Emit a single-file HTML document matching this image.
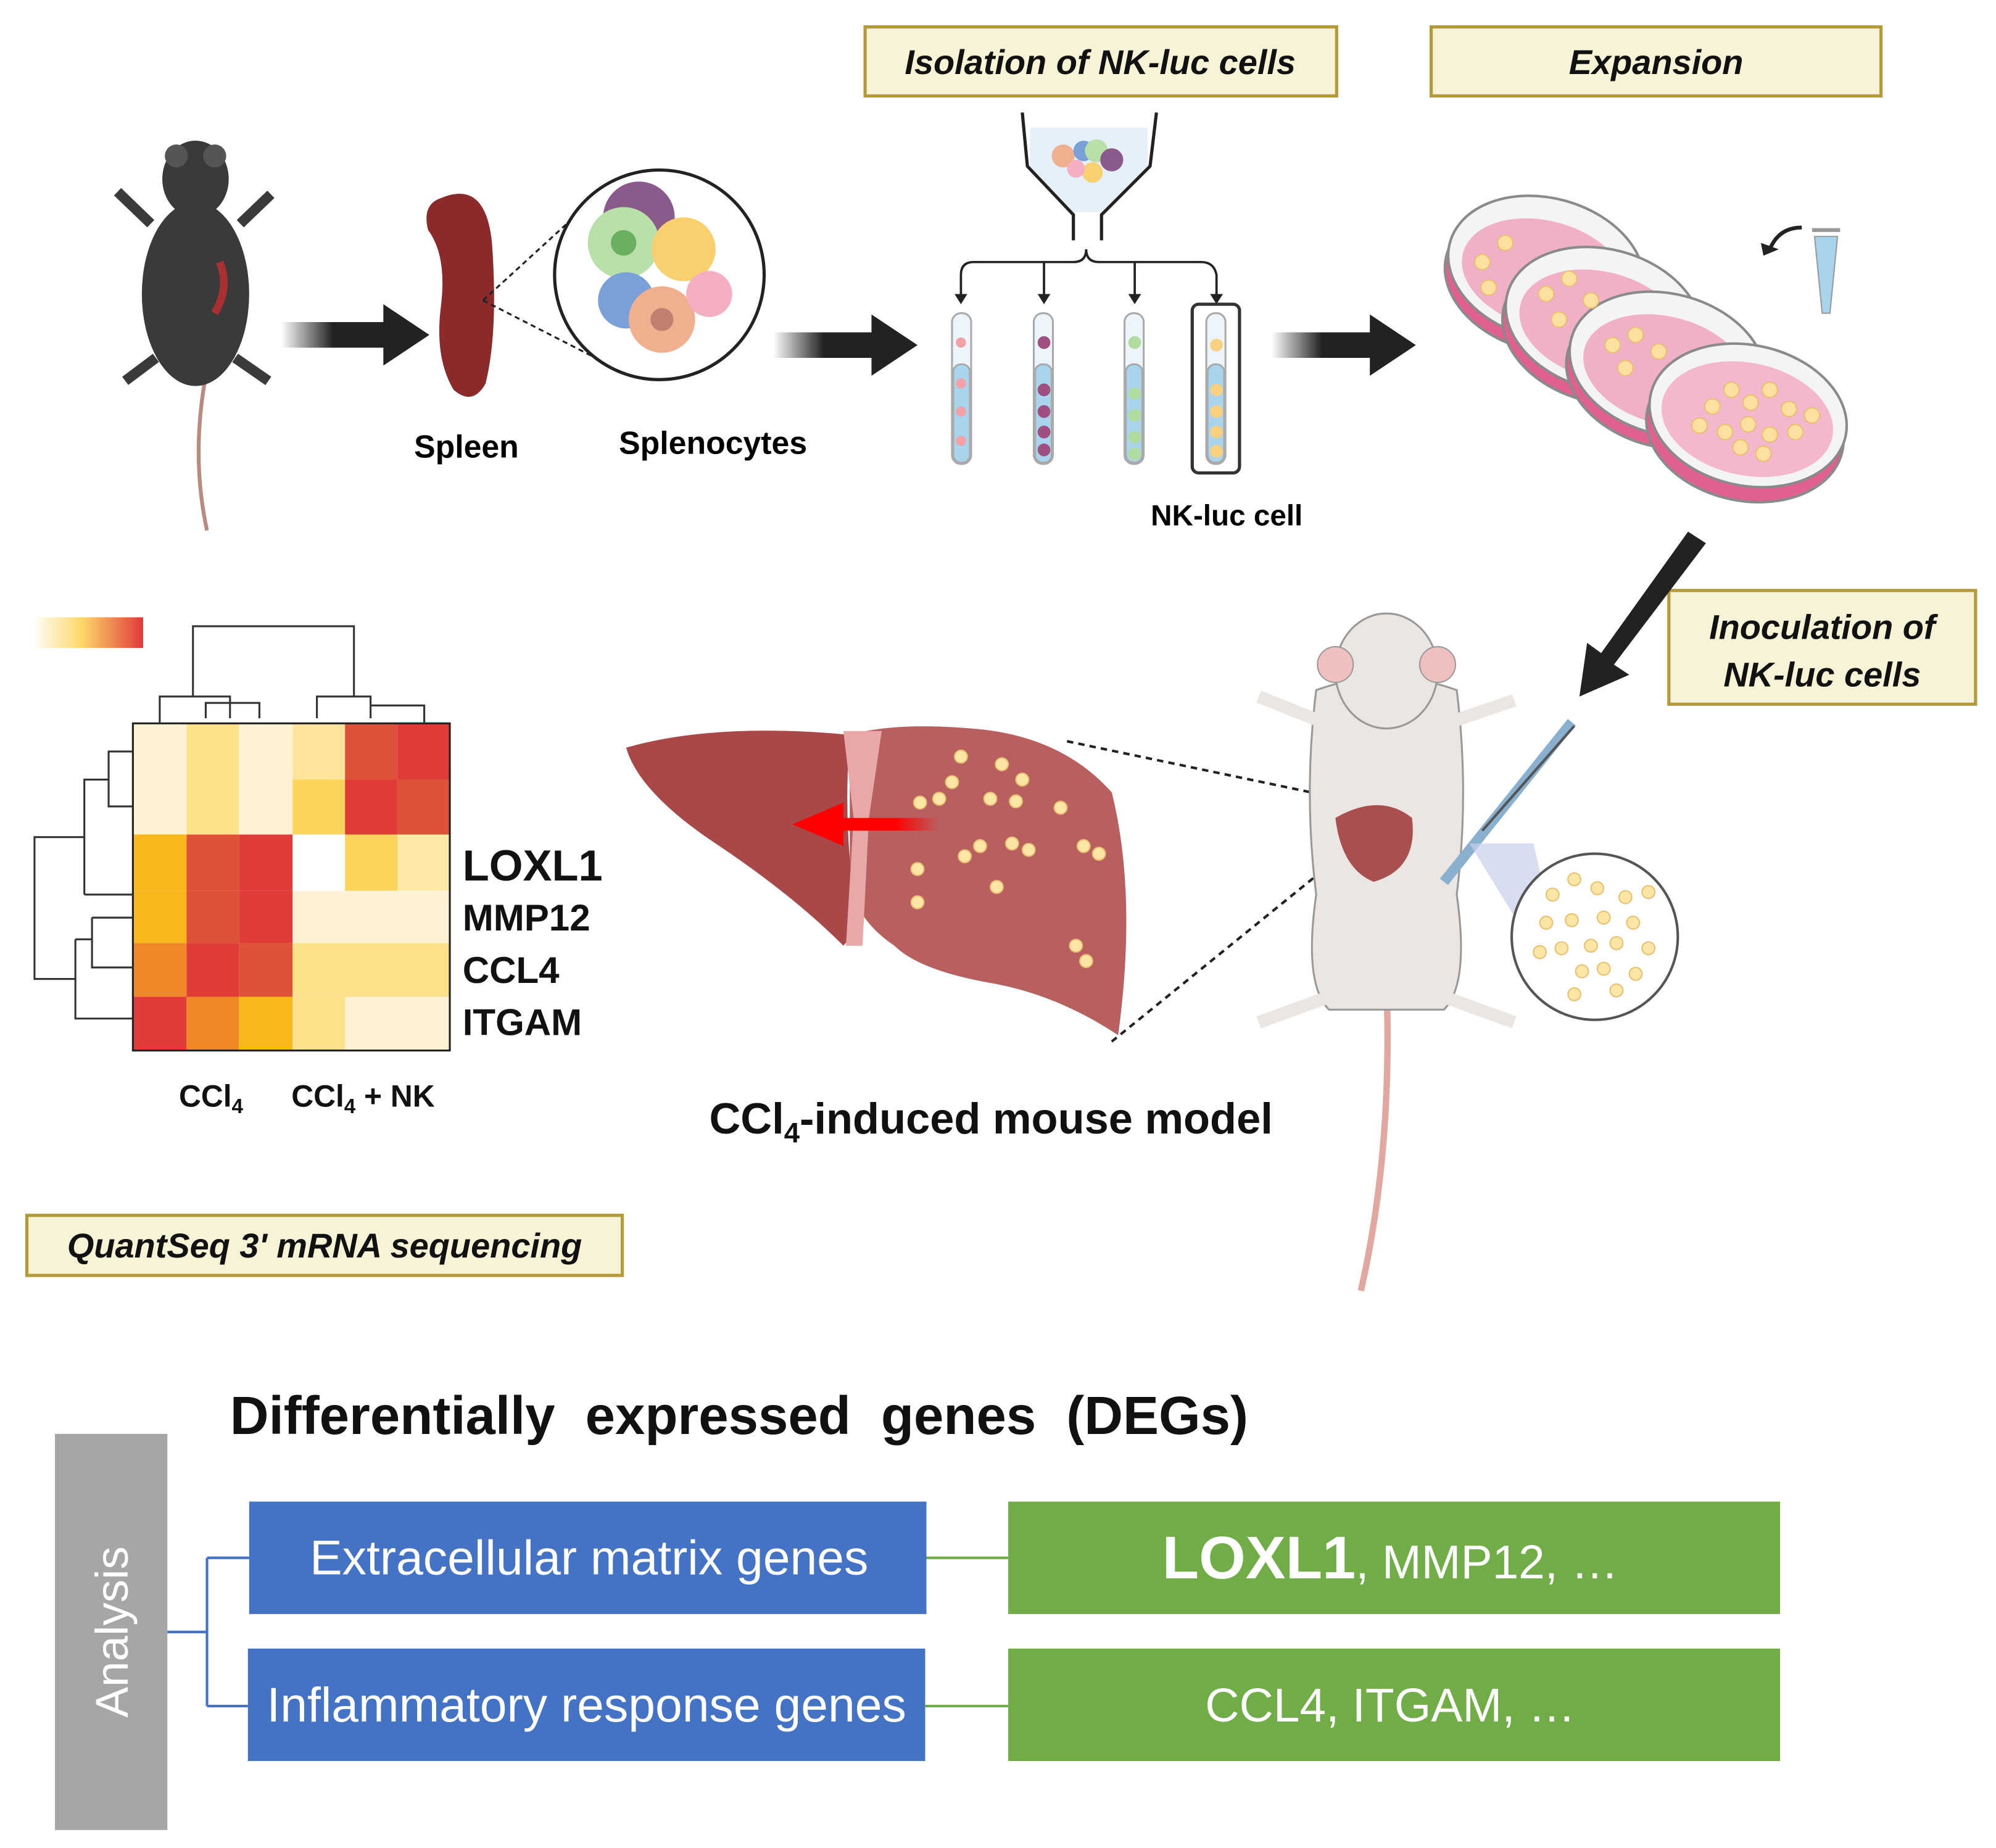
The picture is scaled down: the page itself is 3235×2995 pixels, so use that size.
<!DOCTYPE html>
<html><head><meta charset="utf-8"><style>
html,body{margin:0;padding:0;background:#fff}
svg{display:block}
text{font-family:"Liberation Sans",Arial,sans-serif}
</style></head><body>
<svg width="3235" height="2995" viewBox="0 0 1562 1446" xmlns="http://www.w3.org/2000/svg">
<defs>
<linearGradient id="ga" x1="0" x2="1"><stop offset="0" stop-color="#222" stop-opacity="0"/><stop offset="0.35" stop-color="#222"/></linearGradient>
<linearGradient id="hb" x1="0" x2="1"><stop offset="0" stop-color="#fff"/><stop offset="0.45" stop-color="#fdd868"/><stop offset="1" stop-color="#e03a3a"/></linearGradient>
<linearGradient id="ra" x1="0" x2="1"><stop offset="0" stop-color="#f00"/><stop offset="0.7" stop-color="#f00"/><stop offset="1" stop-color="#f00" stop-opacity="0"/></linearGradient>
</defs>

<!-- label boxes -->
<g stroke="#b49a3a" stroke-width="2.5" fill="#f6f3d6">
<rect x="677" y="21" width="369" height="54"/>
<rect x="1120" y="21" width="352" height="54"/>
<rect x="1306" y="462" width="240" height="89"/>
<rect x="21" y="951" width="466" height="47"/>
</g>
<g font-weight="bold" font-style="italic" font-size="27" fill="#111" text-anchor="middle">
<text x="861" y="58">Isolation of NK-luc cells</text>
<text x="1296" y="58">Expansion</text>
<text x="1426" y="500">Inoculation of</text>
<text x="1426" y="537">NK-luc cells</text>
<text x="254" y="984">QuantSeq 3' mRNA sequencing</text>
</g>

<!-- black mouse -->
<g>
<path d="M160 300 Q150 360 162 415" stroke="#b88a80" stroke-width="3" fill="none"/>
<ellipse cx="153" cy="230" rx="42" ry="72" fill="#3a3a3a"/>
<ellipse cx="153" cy="140" rx="26" ry="30" fill="#3a3a3a"/>
<circle cx="138" cy="122" r="9" fill="#555"/><circle cx="168" cy="122" r="9" fill="#555"/>
<path d="M118 175 L92 150 M188 175 L212 152 M122 280 L98 298 M184 280 L210 298" stroke="#3a3a3a" stroke-width="8"/>
<path d="M172 205 Q180 225 168 245" stroke="#a83030" stroke-width="6" fill="none"/>
</g>
<!-- arrows -->
<path d="M220 252 H300 V238 L336 262 L300 286 V272 H220Z" fill="url(#ga)"/>
<path d="M605 260 H682 V246 L718 270 L682 294 V280 H605Z" fill="url(#ga)"/>
<path d="M995 260 H1072 V246 L1108 270 L1072 294 V280 H995Z" fill="url(#ga)"/>
<path d="M1321 416 L1335 425 L1263 520 L1275 528 L1236 545 L1242 503 L1253 511Z" fill="#222"/>

<!-- spleen -->
<path d="M345 155 Q380 140 385 190 Q390 260 380 300 Q370 318 355 305 Q340 280 345 240 Q350 200 335 180 Q330 160 345 155Z" fill="#8a2a2a"/>
<path d="M378 235 L460 160 M378 235 L470 282" stroke="#222" stroke-width="1.5" stroke-dasharray="4 3"/>
<circle cx="516" cy="215" r="82" fill="#fff" stroke="#222" stroke-width="2.5"/>
<circle cx="500" cy="170" r="28" fill="#8a5a8a"/>
<circle cx="488" cy="190" r="28" fill="#b8e0a8"/><circle cx="488" cy="190" r="10" fill="#6ab060"/>
<circle cx="535" cy="195" r="25" fill="#f8d070"/>
<circle cx="490" cy="235" r="22" fill="#7aa0d8"/>
<circle cx="518" cy="250" r="26" fill="#f0b090"/><circle cx="518" cy="250" r="9" fill="#c08070"/>
<circle cx="555" cy="230" r="18" fill="#f4b0c0"/>
<text x="365" y="358" font-size="25" font-weight="bold" text-anchor="middle">Spleen</text>
<text x="558" y="355" font-size="25" font-weight="bold" text-anchor="middle">Splenocytes</text>

<!-- funnel -->
<path d="M800 88 L804 130 L840 168 V188 M905 88 L900 130 L862 168 V188" stroke="#222" stroke-width="2.5" fill="none"/>
<path d="M806 100 L898 100 L898 130 L862 166 L840 166 L806 130Z" fill="#e6f0fa"/>
<circle cx="832" cy="122" r="9" fill="#f0b090"/><circle cx="848" cy="118" r="8" fill="#7aa0d8"/><circle cx="858" cy="118" r="9" fill="#b8e0a8"/><circle cx="870" cy="125" r="9" fill="#8a5a8a"/><circle cx="855" cy="135" r="8" fill="#f8d070"/><circle cx="842" cy="132" r="7" fill="#f4b0c0"/>
<path d="M752 230 V215 Q752 205 762 205 H840 Q850 205 850 195 Q850 205 860 205 H940 Q950 205 952 215 V230 M817 205 V230 M888 205 V230" stroke="#222" stroke-width="1.8" fill="none"/>
<g fill="#222"><path d="M747 230 h10 l-5 8z"/><path d="M812 230 h10 l-5 8z"/><path d="M883 230 h10 l-5 8z"/><path d="M947 230 h10 l-5 8z"/></g>
<g stroke="#aaa" stroke-width="1.5">
<rect x="745" y="245" width="15" height="118" rx="7" fill="#eef5fa"/><rect x="746" y="285" width="13" height="77" rx="6" fill="#a8d4ee"/>
<rect x="809" y="245" width="15" height="118" rx="7" fill="#eef5fa"/><rect x="810" y="285" width="13" height="77" rx="6" fill="#a8d4ee"/>
<rect x="880" y="245" width="15" height="118" rx="7" fill="#eef5fa"/><rect x="881" y="285" width="13" height="77" rx="6" fill="#a8d4ee"/>
<rect x="944" y="245" width="15" height="118" rx="7" fill="#eef5fa"/><rect x="945" y="285" width="13" height="77" rx="6" fill="#a8d4ee"/>
</g>
<rect x="933" y="238" width="37" height="132" rx="5" fill="none" stroke="#333" stroke-width="2.5"/>
<g fill="#f4a0a8"><circle cx="752" cy="268" r="4"/><circle cx="752" cy="300" r="4"/><circle cx="752" cy="322" r="4"/><circle cx="752" cy="345" r="4"/></g>
<g fill="#a05080"><circle cx="817" cy="268" r="5"/><circle cx="817" cy="305" r="5"/><circle cx="817" cy="322" r="5"/><circle cx="817" cy="338" r="5"/><circle cx="817" cy="352" r="5"/></g>
<g fill="#b0dca0"><circle cx="888" cy="268" r="5"/><circle cx="888" cy="308" r="5"/><circle cx="888" cy="325" r="5"/><circle cx="888" cy="342" r="5"/><circle cx="888" cy="355" r="5"/></g>
<g fill="#f8d080"><circle cx="952" cy="270" r="5"/><circle cx="952" cy="305" r="5"/><circle cx="952" cy="322" r="5"/><circle cx="952" cy="338" r="5"/><circle cx="952" cy="353" r="5"/></g>
<text x="960" y="411" font-size="23" font-weight="bold" text-anchor="middle">NK-luc cell</text>

<!-- petri dishes -->
<g stroke="#8a8a8a" stroke-width="2">
<g transform="translate(1210,210) rotate(15)"><ellipse cx="0" cy="10" rx="78" ry="55" fill="#e06090"/><ellipse rx="78" ry="55" fill="#f4f4f4"/><ellipse cx="0" cy="5" rx="66" ry="42" fill="#f0b0c8" stroke="none"/></g>
<g transform="translate(1255,250) rotate(15)"><ellipse cx="0" cy="10" rx="78" ry="55" fill="#e06090"/><ellipse rx="78" ry="55" fill="#f4f4f4"/><ellipse cx="0" cy="5" rx="66" ry="42" fill="#f0b0c8" stroke="none"/></g>
<g transform="translate(1305,285) rotate(15)"><ellipse cx="0" cy="10" rx="78" ry="55" fill="#e06090"/><ellipse rx="78" ry="55" fill="#f4f4f4"/><ellipse cx="0" cy="5" rx="66" ry="42" fill="#f0b0c8" stroke="none"/></g>
<g transform="translate(1368,325) rotate(12)"><ellipse cx="0" cy="12" rx="78" ry="55" fill="#e06090"/><ellipse rx="78" ry="55" fill="#f4f4f4"/><ellipse cx="0" cy="3" rx="68" ry="44" fill="#f4b8cc" stroke="none"/></g>
</g>
<g fill="#fbe0a0" stroke="#e8c070">
<circle cx="1340" cy="318" r="6"/><circle cx="1355" cy="305" r="6"/><circle cx="1370" cy="315" r="6"/><circle cx="1385" cy="305" r="6"/><circle cx="1400" cy="320" r="6"/><circle cx="1330" cy="333" r="6"/><circle cx="1350" cy="338" r="6"/><circle cx="1368" cy="332" r="6"/><circle cx="1385" cy="340" r="6"/><circle cx="1405" cy="338" r="6"/><circle cx="1362" cy="350" r="6"/><circle cx="1380" cy="355" r="6"/><circle cx="1418" cy="325" r="6"/>
<circle cx="1160" cy="205" r="6"/><circle cx="1178" cy="190" r="6"/><circle cx="1165" cy="225" r="6"/><circle cx="1210" cy="230" r="6"/><circle cx="1228" cy="218" r="6"/><circle cx="1245" cy="235" r="6"/><circle cx="1220" cy="250" r="6"/><circle cx="1262" cy="270" r="6"/><circle cx="1280" cy="262" r="6"/><circle cx="1298" cy="275" r="6"/><circle cx="1272" cy="288" r="6"/>
</g>
<!-- tube small -->
<path d="M1420 185 H1438 L1432 245 H1426Z" fill="#a8d4ee" stroke="#999"/>
<path d="M1418 180 H1440" stroke="#999" stroke-width="3"/>
<path d="M1410 178 Q1392 178 1385 195" stroke="#222" stroke-width="3" fill="none"/><path d="M1378 190 L1392 195 L1380 200Z" fill="#222"/>

<!-- heatmap -->
<rect x="25" y="483" width="87" height="24" fill="url(#hb)"/>
<g stroke="none">
<rect x="104" y="566" width="42" height="44" fill="#fef2d4"/><rect x="146" y="566" width="41" height="44" fill="#fde28a"/><rect x="187" y="566" width="42" height="44" fill="#fef2d4"/><rect x="229" y="566" width="41" height="44" fill="#fde49a"/><rect x="270" y="566" width="41" height="44" fill="#de5238"/><rect x="311" y="566" width="41" height="44" fill="#e03c3a"/>
<rect x="104" y="610" width="42" height="43" fill="#fef2d4"/><rect x="146" y="610" width="41" height="43" fill="#fde28a"/><rect x="187" y="610" width="42" height="43" fill="#fef2d4"/><rect x="229" y="610" width="41" height="43" fill="#fcd45c"/><rect x="270" y="610" width="41" height="43" fill="#e03c3a"/><rect x="311" y="610" width="41" height="43" fill="#de5238"/>
<rect x="104" y="653" width="42" height="44" fill="#f8b81c"/><rect x="146" y="653" width="41" height="44" fill="#e05238"/><rect x="187" y="653" width="42" height="44" fill="#e03c3a"/><rect x="229" y="653" width="41" height="44" fill="#fff"/><rect x="270" y="653" width="41" height="44" fill="#fcd45c"/><rect x="311" y="653" width="41" height="44" fill="#fde8a8"/>
<rect x="104" y="697" width="42" height="41" fill="#f8b81c"/><rect x="146" y="697" width="41" height="41" fill="#e05238"/><rect x="187" y="697" width="42" height="41" fill="#e03c3a"/><rect x="229" y="697" width="123" height="41" fill="#fef2d4"/>
<rect x="104" y="738" width="42" height="42" fill="#ee8828"/><rect x="146" y="738" width="41" height="42" fill="#e03c3a"/><rect x="187" y="738" width="42" height="42" fill="#e05238"/><rect x="229" y="738" width="123" height="42" fill="#fde08a"/>
<rect x="104" y="780" width="42" height="42" fill="#e03c3a"/><rect x="146" y="780" width="41" height="42" fill="#ee8828"/><rect x="187" y="780" width="42" height="42" fill="#f8b81c"/><rect x="229" y="780" width="41" height="42" fill="#fde08a"/><rect x="270" y="780" width="82" height="42" fill="#fef2d4"/>
</g>
<rect x="104" y="566" width="248" height="256" fill="none" stroke="#222" stroke-width="1.5"/>
<g stroke="#333" stroke-width="1.5" fill="none">
<path d="M125 566 V545 H180 V562 M161 562 V550 H203 V562 M151 545 V490 H277 V545 M248 562 V545 H290 V562 M290 550 M290 552 H332 V566 M290 545 V552"/>
<path d="M104 588 H85 V631 H104 M85 610 H66 V700 M66 700 H104 M66 655 H27 V766 H40 M40 766 H59 V797 H104 M59 735 H72 M72 718 H104 M72 718 V757 H104 M59 735 V766"/>
</g>
<g font-weight="bold" fill="#111">
<text x="362" y="689" font-size="34">LOXL1</text>
<text x="362" y="728" font-size="29">MMP12</text>
<text x="362" y="769" font-size="29">CCL4</text>
<text x="362" y="810" font-size="29">ITGAM</text>
<text x="140" y="866" font-size="24">CCl<tspan font-size="16" dy="5">4</tspan></text>
<text x="228" y="866" font-size="24">CCl<tspan font-size="16" dy="5">4</tspan><tspan dy="-5"> + NK</tspan></text>
<text x="555" y="887" font-size="34">CCl<tspan font-size="22" dy="7">4</tspan><tspan dy="-7">-induced mouse model</tspan></text>
</g>

<!-- liver -->
<path d="M665 575 Q700 565 760 570 Q830 575 870 620 Q890 700 875 810 Q830 780 780 770 Q720 760 700 740 Q670 720 665 690Z" fill="#b86060"/>
<path d="M490 585 Q560 565 665 575 Q660 640 668 700 Q670 730 660 740 Q620 700 560 660 Q500 620 490 585Z" fill="#a84848"/>
<path d="M660 572 L690 572 L680 640 L675 740 L662 740 L668 640Z" fill="#e8a8a8"/>
<g fill="#fbe6a6" stroke="#e8c070"><circle cx="720" cy="628" r="5"/><circle cx="735" cy="625" r="5"/><circle cx="752" cy="592" r="5"/><circle cx="745" cy="612" r="5"/><circle cx="784" cy="598" r="5"/><circle cx="800" cy="610" r="5"/><circle cx="775" cy="625" r="5"/><circle cx="795" cy="627" r="5"/><circle cx="830" cy="632" r="5"/><circle cx="755" cy="670" r="5"/><circle cx="767" cy="662" r="5"/><circle cx="792" cy="660" r="5"/><circle cx="805" cy="665" r="5"/><circle cx="848" cy="662" r="5"/><circle cx="860" cy="668" r="5"/><circle cx="718" cy="706" r="5"/><circle cx="780" cy="694" r="5"/><circle cx="842" cy="740" r="5"/><circle cx="850" cy="752" r="5"/><circle cx="718" cy="680" r="5"/></g>
<path d="M735 640 H660 V628 L620 645 L660 662 V650 H735Z" fill="url(#ra)"/>
<path d="M835 580 L1050 625 M870 815 L1055 665" stroke="#222" stroke-width="2" stroke-dasharray="5 4"/>

<!-- white mouse -->
<path d="M1085 770 Q1090 900 1065 1010" stroke="#e0a8a0" stroke-width="5" fill="none"/>
<path d="M1030 540 Q1085 520 1140 540 Q1150 620 1140 700 Q1150 770 1130 790 L1040 790 Q1020 770 1030 700 Q1020 620 1030 540Z" fill="#ebe6e2" stroke="#999" stroke-width="1.5"/>
<ellipse cx="1085" cy="525" rx="40" ry="45" fill="#ebe6e2" stroke="#999" stroke-width="1.5"/>
<circle cx="1045" cy="520" r="14" fill="#f0c0c0" stroke="#999"/><circle cx="1125" cy="520" r="14" fill="#f0c0c0" stroke="#999"/>
<path d="M1035 565 L985 545 M1135 565 L1185 548 M1040 780 L985 800 M1130 780 L1185 800" stroke="#ebe6e2" stroke-width="10"/>
<path d="M1045 640 Q1080 620 1105 640 Q1110 680 1075 690 Q1050 680 1045 640Z" fill="#a85050"/>
<path d="M1130 690 L1230 565" stroke="#8ab0d0" stroke-width="8"/><path d="M1160 650 L1232 568" stroke="#555" stroke-width="2"/>
<path d="M1150 660 L1200 660 L1230 790 Z" fill="#c8d0ea" opacity="0.7"/>
<circle cx="1248" cy="733" r="65" fill="#fff" stroke="#555" stroke-width="2"/>
<g fill="#fbe6a6" stroke="#e8c070"><circle cx="1215" cy="700" r="5"/><circle cx="1232" cy="688" r="5"/><circle cx="1250" cy="695" r="5"/><circle cx="1272" cy="702" r="5"/><circle cx="1290" cy="698" r="5"/><circle cx="1210" cy="722" r="5"/><circle cx="1230" cy="720" r="5"/><circle cx="1255" cy="718" r="5"/><circle cx="1278" cy="722" r="5"/><circle cx="1222" cy="742" r="5"/><circle cx="1245" cy="740" r="5"/><circle cx="1265" cy="738" r="5"/><circle cx="1290" cy="742" r="5"/><circle cx="1205" cy="745" r="5"/><circle cx="1238" cy="760" r="5"/><circle cx="1255" cy="758" r="5"/><circle cx="1280" cy="762" r="5"/><circle cx="1232" cy="778" r="5"/><circle cx="1265" cy="775" r="5"/></g>

<!-- bottom -->
<text x="180" y="1122" font-size="42" font-weight="bold" fill="#111" word-spacing="12">Differentially expressed genes (DEGs)</text>
<rect x="43" y="1122" width="88" height="310" fill="#a6a6a6"/>
<text transform="translate(100,1277) rotate(-90)" font-size="36" fill="#fff" text-anchor="middle">Analysis</text>
<path d="M131 1277 H162 M162 1219 V1335 M162 1219 H195 M162 1335 H194" stroke="#4472c4" stroke-width="2"/>
<path d="M725 1219 H789 M724 1335 H789" stroke="#70ad47" stroke-width="2"/>
<rect x="195" y="1175" width="530" height="88" fill="#4472c4"/>
<rect x="194" y="1290" width="530" height="88" fill="#4472c4"/>
<rect x="789" y="1175" width="604" height="88" fill="#70ad47"/>
<rect x="789" y="1290" width="604" height="88" fill="#70ad47"/>
<g fill="#fff" text-anchor="middle">
<text x="461" y="1232" font-size="38">Extracellular matrix genes</text>
<text x="459" y="1347" font-size="38">Inflammatory response genes</text>
<text x="1088" y="1235" font-size="37"><tspan font-size="47" font-weight="bold">LOXL1</tspan>, MMP12, …</text>
<text x="1088" y="1347" font-size="37">CCL4, ITGAM, …</text>
</g>
</svg>
</body></html>
